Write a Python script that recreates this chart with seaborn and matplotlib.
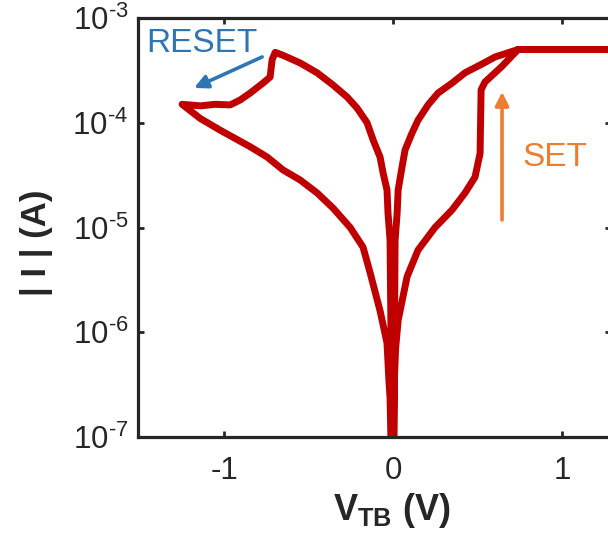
import numpy as np
import pandas as pd
import matplotlib
matplotlib.use("Agg")
import matplotlib.pyplot as plt
from matplotlib.ticker import FixedLocator, FixedFormatter, NullLocator
import seaborn as sns

# ---- data ----
# SET sweep: 0 -> +V
V_set = [0.0, 0.006, 0.015, 0.03, 0.083, 0.148, 0.248, 0.349, 0.426, 0.485, 0.515, 0.521, 0.544, 0.64, 0.74, 1.3]
I_set = [1e-8, 3e-7, 7e-7, 1.3e-6, 3.4e-6, 6.1e-6, 1.0e-5, 1.47e-5, 2.14e-5, 3.03e-5, 5.1e-5, 2.06e-4, 2.45e-4, 3.4e-4, 5e-4, 5e-4]
# return +V -> 0 (LRS)
V_lrs_pos = [1.3, 0.74, 0.604, 0.527, 0.426, 0.349, 0.266, 0.207, 0.148, 0.112, 0.071, 0.053, 0.030, 0.024, 0.012, 0.0]
I_lrs_pos = [5e-4, 5e-4, 4.25e-4, 3.64e-4, 3.0e-4, 2.39e-4, 1.92e-4, 1.48e-4, 1.06e-4, 7.97e-5, 5.5e-5, 3.78e-5, 2.28e-5, 1.37e-5, 7.6e-6, 1e-8]
# 0 -> -V (LRS)
V_lrs_neg = [-0.018, -0.030, -0.036, -0.059, -0.077, -0.118, -0.154, -0.213, -0.272, -0.355, -0.45, -0.55, -0.651, -0.698]
I_lrs_neg = [7.6e-6, 1.37e-5, 2.28e-5, 3.31e-5, 4.7e-5, 6.84e-5, 1.0e-4, 1.38e-4, 1.76e-4, 2.29e-4, 3.0e-4, 3.72e-4, 4.4e-4, 4.7e-4]
# RESET
V_reset = [-0.716, -0.728, -0.769, -0.846, -0.905, -0.964, -1.053, -1.14, -1.249]
I_reset = [4.0e-4, 2.73e-4, 2.4e-4, 1.92e-4, 1.65e-4, 1.48e-4, 1.5e-4, 1.45e-4, 1.5e-4]
# return -V -> 0 (HRS)
V_hrs_neg = [-1.142, -1.024, -0.846, -0.746, -0.651, -0.55, -0.45, -0.355, -0.254, -0.178, -0.136, -0.077, -0.036, -0.024, -0.018, 0.0]
I_hrs_neg = [1.1e-4, 8.5e-5, 5.9e-5, 4.71e-5, 3.54e-5, 2.84e-5, 2.14e-5, 1.53e-5, 1.0e-5, 6.5e-6, 3.7e-6, 1.6e-6, 7.9e-7, 3.3e-7, 2.4e-7, 1e-8]

x_ticks = [-1, 0, 1]
x_tick_labels = ["-1", "0", "1"]
y_ticks = [1e-7, 1e-6, 1e-5, 1e-4, 1e-3]
y_tick_labels = [r"10$^{\text{-7}}$", r"10$^{\text{-6}}$", r"10$^{\text{-5}}$",
                 r"10$^{\text{-4}}$", r"10$^{\text{-3}}$"]

df = pd.DataFrame({
    "V": V_set + V_lrs_pos + V_lrs_neg + V_reset + V_hrs_neg,
    "I": I_set + I_lrs_pos + I_lrs_neg + I_reset + I_hrs_neg,
})

# ---- style ----
sns.set_style("ticks")
plt.rcParams["font.family"] = ["Liberation Sans", "DejaVu Sans"]
plt.rcParams["mathtext.fontset"] = "custom"
plt.rcParams["mathtext.rm"] = "Liberation Sans"
plt.rcParams["mathtext.it"] = "Liberation Sans:italic"
plt.rcParams["mathtext.bf"] = "Liberation Sans:bold"
plt.rcParams["axes.unicode_minus"] = False

dark = "#262626"
red = "#C00000"
blue = "#2E75B6"
orange = "#ED7D31"

fig = plt.figure(figsize=(6.08, 5.36), dpi=100)
ax = fig.add_axes([138 / 608, 99 / 536, 473 / 608, 419 / 536])
ax.set_yscale("log")

sns.lineplot(data=df, x="V", y="I", sort=False, estimator=None, color=red,
             linewidth=5.0, ax=ax, legend=False)
for ln in ax.lines:
    ln.set_solid_joinstyle("round")
    ln.set_solid_capstyle("butt")

ax.set_xlim(-1.51, 1.29)
ax.set_ylim(1e-7, 1e-3)
ax.xaxis.set_major_locator(FixedLocator(x_ticks))
ax.xaxis.set_major_formatter(FixedFormatter(x_tick_labels))
ax.yaxis.set_major_locator(FixedLocator(y_ticks))
ax.yaxis.set_major_formatter(FixedFormatter(y_tick_labels))
ax.yaxis.set_minor_locator(NullLocator())
ax.xaxis.set_minor_locator(NullLocator())

for s in ax.spines.values():
    s.set_visible(True)
    s.set_linewidth(2.3)
    s.set_color(dark)

ax.tick_params(axis="both", which="major", direction="in", length=4, width=2,
               color=dark, labelcolor=dark, labelsize=22.5,
               top=True, right=True)
ax.tick_params(axis="x", pad=14)
ax.tick_params(axis="y", pad=7)

ax.set_xlabel(r"$\mathbf{V_{TB}}$ (V)", fontsize=26, fontweight="bold",
              color=dark)
ax.set_ylabel("| I | (A)", fontsize=25, fontweight="bold", color=dark)
ax.xaxis.set_label_coords(0.537, -0.128)
ax.yaxis.set_label_coords(-0.18, 0.463)

# annotations
ax.text(-1.462, 4.73e-4, "RESET", color=blue, fontsize=24, ha="left",
        va="baseline")
ax.annotate("", xy=(-1.178, 2.15e-4), xytext=(-0.775, 4.25e-4),
            arrowprops=dict(arrowstyle="-|>", color=blue, lw=2.6,
                            mutation_scale=20, shrinkA=0, shrinkB=0))
ax.text(0.763, 3.86e-5, "SET", color=orange, fontsize=24, ha="left",
        va="baseline")
ax.annotate("", xy=(0.645, 1.97e-4), xytext=(0.645, 1.18e-5),
            arrowprops=dict(arrowstyle="-|>", color=orange, lw=2.6,
                            mutation_scale=20, shrinkA=0, shrinkB=0))

fig.savefig("out.png", dpi=100)
